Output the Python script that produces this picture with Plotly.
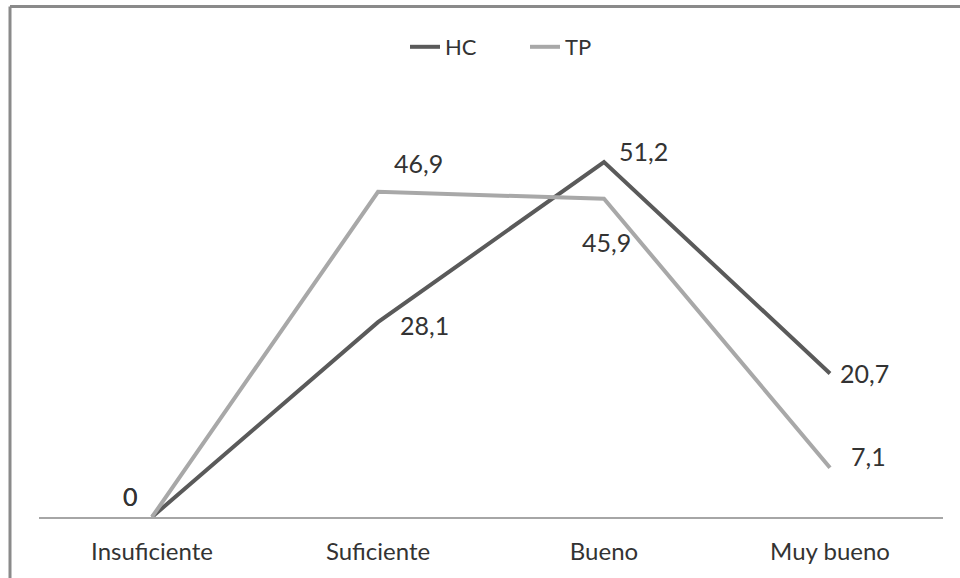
import plotly.graph_objects as go

categories = ["Insuficiente", "Suficiente", "Bueno", "Muy bueno"]
hc_values = [0, 28.1, 51.2, 20.7]
tp_values = [0, 46.9, 45.9, 7.1]

# label offsets (pixels) for each point
hc_offsets = [(-22, 21), (46, -3), (39, 11), (34, 0)]
tp_offsets = [(-22, 21), (40, 29), (2, -43), (38, 12)]

HC_COLOR = "#5a5a5a"
TP_COLOR = "#a8a8a8"
FONT = "Lato, 'Open Sans', sans-serif"
TXT = "#333333"

fig = go.Figure()
fig.add_trace(go.Scatter(x=categories, y=hc_values, mode="lines", name="HC",
                         line=dict(color=HC_COLOR, width=4)))
fig.add_trace(go.Scatter(x=categories, y=tp_values, mode="lines", name="TP",
                         line=dict(color=TP_COLOR, width=4)))

def fmt(v):
    return "0" if v == 0 else ("%.1f" % v).replace(".", ",")

annotations = []
for vals, offs in ((hc_values, hc_offsets), (tp_values, tp_offsets)):
    for c, v, (dx, dy) in zip(categories, vals, offs):
        annotations.append(dict(x=c, y=v, xref="x", yref="y", text=fmt(v),
                                showarrow=False, xshift=dx, yshift=dy,
                                font=dict(family=FONT, size=25, color=TXT)))

L, R, T, B = 39, 17, 101, 61
W, H = 960, 578
pw, ph = W - L - R, H - T - B
bx = (10 - L) / pw
by = (H - B - 6.5) / ph

fig.update_layout(
    width=W, height=H,
    margin=dict(l=L, r=R, t=T, b=B),
    paper_bgcolor="white", plot_bgcolor="white",
    font=dict(family=FONT, size=24, color=TXT),
    showlegend=True,
    legend=dict(orientation="h", x=(405 - L) / pw, xanchor="left", y=(H - B - 47) / ph,
                yanchor="middle", font=dict(family=FONT, size=22, color=TXT),
                entrywidth=75, bgcolor="rgba(0,0,0,0)"),
    xaxis=dict(type="category", range=[-0.5, 3.5], showgrid=False, zeroline=False,
               showline=True, linecolor="#a6a6a6", linewidth=1.5, ticks="",
               tickfont=dict(family=FONT, size=24, color=TXT), ticklabelstandoff=12),
    yaxis=dict(range=[0, 60], showgrid=False, zeroline=False, showline=False,
               showticklabels=False, ticks=""),
    annotations=annotations,
    shapes=[
        dict(type="line", xref="paper", yref="paper", x0=bx, x1=bx, y0=-0.3, y1=by,
             line=dict(color="#8a8a8a", width=3)),
        dict(type="line", xref="paper", yref="paper", x0=bx, x1=1.05, y0=by, y1=by,
             line=dict(color="#8a8a8a", width=3)),
    ],
)

fig.write_html("out.html", config={"displayModeBar": False},
               post_script="document.body.style.margin='0';")
